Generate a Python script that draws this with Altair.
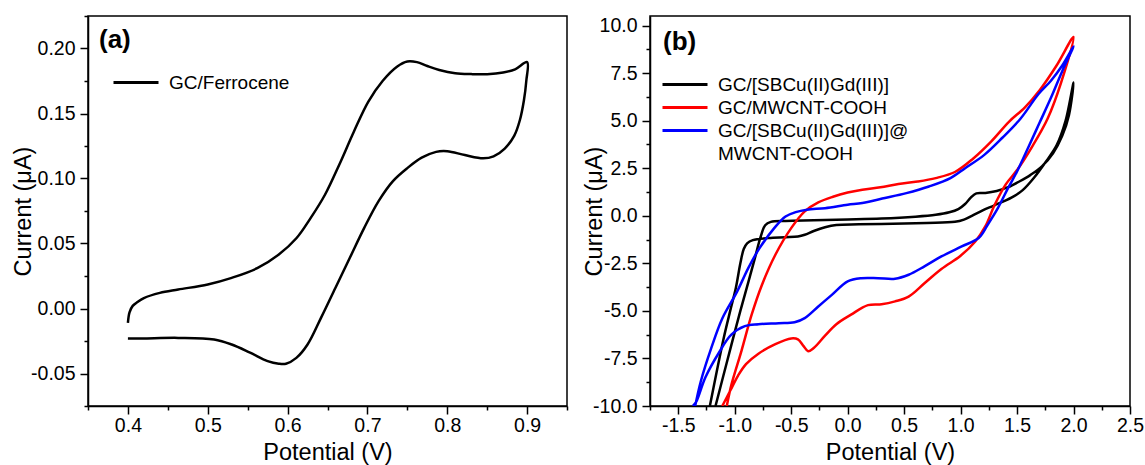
import altair as alt
import pandas as pd

FONT = "Liberation Sans"

# ---------------- panel (a): GC/Ferrocene ----------------
A_NAME = "GC/Ferrocene"
A_X = [0.400, 0.402, 0.406, 0.412, 0.420, 0.440, 0.463, 0.500, 0.530, 0.562,
       0.589, 0.611, 0.629, 0.647, 0.665, 0.683, 0.701, 0.719, 0.737, 0.750,
       0.762, 0.775, 0.790, 0.810, 0.830, 0.850, 0.870, 0.885, 0.900,
       0.899, 0.896, 0.891, 0.884, 0.872, 0.858, 0.845, 0.822, 0.800, 0.786,
       0.768, 0.750, 0.732, 0.714, 0.696, 0.678, 0.660, 0.642, 0.625, 0.611,
       0.598, 0.589, 0.575, 0.553, 0.530, 0.508, 0.463, 0.418, 0.400]
A_Y = [-0.011, -0.003, 0.002, 0.005, 0.008, 0.012, 0.0146, 0.0185, 0.0236, 0.031,
       0.0415, 0.054, 0.0697, 0.0877, 0.111, 0.136, 0.159, 0.175, 0.186, 0.190,
       0.1895, 0.1865, 0.1835, 0.181, 0.1803, 0.1802, 0.1815, 0.184, 0.1895,
       0.175, 0.160, 0.145, 0.133, 0.123, 0.117, 0.1155, 0.118, 0.121, 0.1205,
       0.116, 0.108, 0.098, 0.0826, 0.062, 0.039, 0.016, -0.007, -0.0277, -0.038,
       -0.0425, -0.0425, -0.0405, -0.034, -0.0277, -0.0238, -0.0226, -0.023, -0.023]

# ---------------- panel (b) ----------------
S1 = "GC/[SBCu(II)Gd(III)]"
S2 = "GC/MWCNT-COOH"
S3 = "GC/[SBCu(II)Gd(III)]@MWCNT-COOH"
S3_LINE2 = "MWCNT-COOH"

B1_X = [-1.22, -1.10, -1.04, -0.99, -0.95, -0.92, -0.89, -0.84, -0.70, -0.55,
        -0.44, -0.38, -0.30, -0.20, -0.10, 0.10, 0.40, 0.70, 0.95, 1.03,
        1.10, 1.20, 1.30, 1.45, 1.55, 1.65, 1.75, 1.85, 1.93, 2.00,
        1.96, 1.90, 1.82, 1.72, 1.62, 1.52, 1.42, 1.32, 1.22, 1.14,
        1.09, 1.04, 0.98, 0.90, 0.78, 0.60, 0.30, 0.00, -0.30, -0.55,
        -0.68, -0.73, -0.77, -0.82, -0.88, -0.95, -1.03, -1.10, -1.17]
B1_Y = [-10.0, -6.5, -5.0, -3.8, -2.5, -1.75, -1.45, -1.28, -1.17, -1.13,
        -1.09, -1.0, -0.8, -0.6, -0.48, -0.45, -0.42, -0.38, -0.32, -0.2,
        0.0, 0.3, 0.55, 0.95, 1.35, 2.0, 2.8, 3.7, 5.0, 7.0,
        5.3, 4.2, 3.3, 2.6, 2.15, 1.8, 1.5, 1.3, 1.2, 1.18,
        0.95, 0.62, 0.35, 0.18, 0.05, -0.05, -0.15, -0.2, -0.24, -0.27,
        -0.32, -0.5, -1.1, -2.2, -3.5, -5.0, -6.8, -8.4, -10.0]

B2_X = [-1.11, -1.04, -0.97, -0.90, -0.79, -0.64, -0.50, -0.44, -0.39, -0.35,
        -0.30, -0.20, -0.10, 0.03, 0.18, 0.30, 0.42, 0.54, 0.68, 0.83,
        1.00, 1.13, 1.22, 1.30, 1.40, 1.50, 1.63, 1.77, 1.89, 2.00,
        1.85, 1.70, 1.57, 1.43, 1.27, 1.11, 0.95, 0.78, 0.62, 0.45,
        0.29, 0.13, 0.00, -0.13, -0.26, -0.38, -0.50, -0.64, -0.76, -0.85,
        -0.94, -1.03, -1.07]
B2_Y = [-10.0, -9.2, -8.4, -7.8, -7.25, -6.75, -6.45, -6.5, -6.85, -7.12,
        -6.95, -6.3, -5.7, -5.2, -4.7, -4.65, -4.5, -4.25, -3.55, -2.8,
        -2.1, -1.35, -0.55, 0.55, 1.65, 2.4, 3.6, 5.1, 7.0, 9.4,
        7.9, 6.6, 5.7, 4.95, 3.9, 3.0, 2.3, 1.98, 1.8, 1.67,
        1.5, 1.37, 1.22, 1.0, 0.7, 0.23, -0.65, -2.05, -3.65, -5.2,
        -7.1, -8.9, -10.0]

B3_X = [-1.37, -1.34, -1.26, -1.14, -1.03, -0.91, -0.79, -0.61, -0.47, -0.38,
        -0.26, -0.14, 0.00, 0.12, 0.27, 0.42, 0.54, 0.68, 0.83, 1.01,
        1.16, 1.24, 1.33, 1.42, 1.50, 1.60, 1.70, 1.80, 1.90, 2.00,
        1.90, 1.80, 1.69, 1.53, 1.37, 1.21, 1.04, 0.91, 0.72, 0.52,
        0.33, 0.13, 0.00, -0.20, -0.36, -0.46, -0.55, -0.65, -0.78, -0.88,
        -0.98, -1.11, -1.21, -1.30, -1.35]
B3_Y = [-10.0, -9.77, -8.5, -7.2, -6.25, -5.8, -5.7, -5.65, -5.6, -5.38,
        -4.77, -4.16, -3.45, -3.28, -3.28, -3.31, -3.1, -2.66, -2.14, -1.61,
        -1.17, -0.47, 0.4, 1.45, 2.33, 3.6, 4.9, 6.2, 7.6, 8.9,
        7.9, 7.1, 6.4, 5.1, 4.1, 3.2, 2.5, 1.98, 1.54, 1.19,
        0.93, 0.67, 0.58, 0.4, 0.32, 0.19, -0.04, -0.65, -1.7, -2.75,
        -4.0, -5.4, -7.0, -8.7, -10.0]

# ---------------- ticks ----------------
A_XTICKS = [0.35, 0.4, 0.45, 0.5, 0.55, 0.6, 0.65, 0.7, 0.75, 0.8, 0.85, 0.9, 0.95]
A_XMAJOR = [0.4, 0.5, 0.6, 0.7, 0.8, 0.9]
A_YTICKS = [-0.075, -0.05, -0.025, 0.0, 0.025, 0.05, 0.075, 0.1, 0.125, 0.15, 0.175, 0.2, 0.225]
A_YMAJOR = [-0.05, 0.0, 0.05, 0.1, 0.15, 0.2]
B_XTICKS = [-1.75, -1.5, -1.25, -1.0, -0.75, -0.5, -0.25, 0.0, 0.25, 0.5, 0.75,
            1.0, 1.25, 1.5, 1.75, 2.0, 2.25, 2.5]
B_XMAJOR = [-1.5, -1.0, -0.5, 0.0, 0.5, 1.0, 1.5, 2.0, 2.5]
B_YTICKS = [-10.0, -8.75, -7.5, -6.25, -5.0, -3.75, -2.5, -1.25, 0.0, 1.25, 2.5,
            3.75, 5.0, 6.25, 7.5, 8.75, 10.0]
B_YMAJOR = [-10.0, -7.5, -5.0, -2.5, 0.0, 2.5, 5.0, 7.5, 10.0]

W_A, W_B, H = 479, 480, 390


def make_axis(values, majors, fmt, title, orient, width, title_off):
    test = "indexof(%s, datum.value) >= 0" % str(majors)
    label = "%s ? ((datum.value < 0 ? '-' : '') + format(abs(datum.value), '%s')) : ''" % (test, fmt)
    kw = dict(values=values, title=title, orient=orient, labelExpr=label,
              tickSize={"condition": {"test": test, "value": 8}, "value": 4},
              labelOverlap=False, labelBound=False, labelFlush=False, grid=False,
              titleBaseline="middle")
    if orient == "bottom":
        kw.update(labelPadding=2, titleX=width / 2, titleY=title_off)
    else:
        kw.update(labelPadding=5, titleX=title_off, titleY=H / 2)
    return alt.Axis(**kw)


def legend(x, y):
    return alt.Legend(title=None, orient="none", legendX=x, legendY=y,
                      symbolType="M-3.5,0H1", symbolSize=400, symbolStrokeWidth=3,
                      labelFont=FONT, labelFontSize=19, labelColor="black",
                      labelOffset=9, labelLimit=500, padding=0, rowPadding=1,
                      labelExpr="datum.label == '%s' ? 'GC/[SBCu(II)Gd(III)]@' : datum.label" % S3)


df_a = pd.DataFrame({"x": A_X, "y": A_Y, "i": range(len(A_X)), "s": A_NAME})
line_a = alt.Chart(df_a).mark_line(strokeWidth=2.5, interpolate="catmull-rom", clip=True).encode(
    x=alt.X("x:Q", scale=alt.Scale(domain=[0.35, 0.95], nice=False, zero=False),
            axis=make_axis(A_XTICKS, A_XMAJOR, ".1f", "Potential (V)", "bottom", W_A, 46)),
    y=alt.Y("y:Q", scale=alt.Scale(domain=[-0.075, 0.225], nice=False, zero=False),
            axis=make_axis(A_YTICKS, A_YMAJOR, ".2f", "Current (\u03bcA)", "left", W_A, -65)),
    order="i:Q",
    color=alt.Color("s:N", scale=alt.Scale(domain=[A_NAME], range=["#000000"]),
                    legend=legend(49, 55)),
)
lab_a = alt.Chart(pd.DataFrame({"t": ["(a)"]})).mark_text(
    font=FONT, fontSize=26, fontWeight="bold", align="left", baseline="middle", color="black"
).encode(text="t:N", x=alt.value(11), y=alt.value(24))
left = alt.layer(line_a, lab_a).properties(width=W_A, height=H)

frames = []
for name, xs, ys in [(S1, B1_X, B1_Y), (S2, B2_X, B2_Y), (S3, B3_X, B3_Y)]:
    frames.append(pd.DataFrame({"x": xs, "y": ys, "i": range(len(xs)), "sample": name}))
df_b = pd.concat(frames, ignore_index=True)

line_b = alt.Chart(df_b).mark_line(strokeWidth=2.5, interpolate="catmull-rom", clip=True).encode(
    x=alt.X("x:Q", scale=alt.Scale(domain=[-1.75, 2.5], nice=False, zero=False),
            axis=make_axis(B_XTICKS, B_XMAJOR, ".1f", "Potential (V)", "bottom", W_B, 46)),
    y=alt.Y("y:Q", scale=alt.Scale(domain=[-10, 10.5], nice=False, zero=False),
            axis=make_axis(B_YTICKS, B_YMAJOR, ".1f", "Current (\u03bcA)", "left", W_B, -56)),
    order="i:Q",
    detail="sample:N",
    color=alt.Color("sample:N",
                    scale=alt.Scale(domain=[S1, S2, S3, S3_LINE2],
                                    range=["#000000", "#ff0000", "#0000ff", "rgba(0,0,0,0)"]),
                    legend=legend(36, 57)),
)
lab_b = alt.Chart(pd.DataFrame({"t": ["(b)"]})).mark_text(
    font=FONT, fontSize=26, fontWeight="bold", align="left", baseline="middle", color="black"
).encode(text="t:N", x=alt.value(13), y=alt.value(26))
right = alt.layer(line_b, lab_b).properties(width=W_B, height=H)

chart = alt.hconcat(left, right, spacing=83, bounds="flush").resolve_scale(
    color="independent", x="independent", y="independent"
).properties(
    padding={"left": 10, "top": 5, "right": 0, "bottom": 0},
    background="white",
).configure_view(
    stroke="black", strokeWidth=1.5
).configure_axis(
    domainColor="black", domainWidth=1.5, tickColor="black", tickWidth=1.5,
    labelColor="black", labelFont=FONT, labelFontSize=19.5,
    titleColor="black", titleFont=FONT, titleFontSize=23.5, titleFontWeight="normal",
)

chart.save("out.html", embed_options={"renderer": "svg", "actions": False})
